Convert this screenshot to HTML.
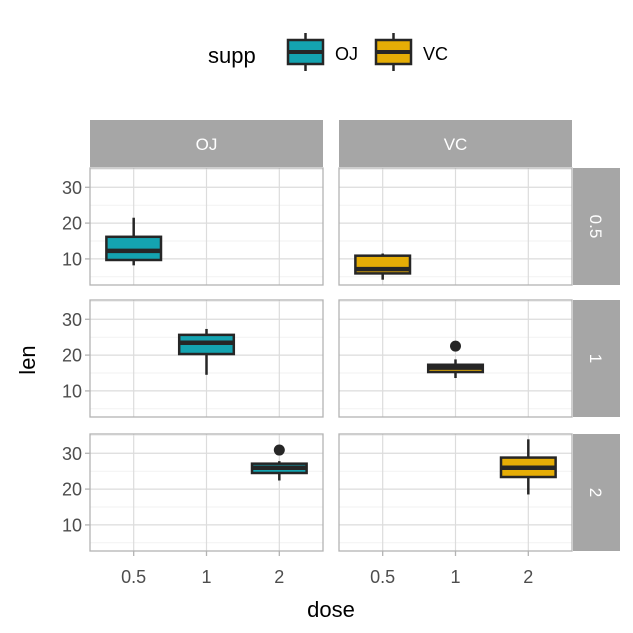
<!DOCTYPE html>
<html><head><meta charset="utf-8"><style>body{margin:0;background:#fff}svg{display:block}</style></head>
<body>
<svg id="c" width="633" height="633" xmlns="http://www.w3.org/2000/svg" font-family="Liberation Sans, sans-serif"></svg>
<script>
const supps=["OJ","VC"];
const doses=["0.5","1","2"];
const fills=["#14a3b0","#e5ad06"];
// [min whisker, q1, median, q3, max whisker] per supp per dose
const statsOJ=[[8.2,9.7,12.25,16.175,21.5],[14.5,20.3,23.45,25.65,27.3],[22.4,24.5,25.95,27.1,27.8]];
const statsVC=[[4.2,5.95,7.15,10.9,11.5],[13.6,15.275,16.5,17.3,18.8],[18.5,23.375,25.95,28.8,33.9]];
const outOJ=[[],[],[30.9]];
const outVC=[[],[22.5],[]];
const yTicks=[10,20,30];
const NS="http://www.w3.org/2000/svg";
const svg=document.getElementById('c');
function mk(t,a,p){const e=document.createElementNS(NS,t);for(const k in a)e.setAttribute(k,a[k]);(p||svg).appendChild(e);return e;}
const colX=[90,339],pw=233,rowY=[168,300,434],ph=117;
const ymin=2.715,ymax=35.385;
function sx(c,i){return colX[c]+(i+1-0.4)/3.2*pw;}
function sy(r,v){return rowY[r]+ph-(v-ymin)/(ymax-ymin)*ph;}
const stats=[statsOJ,statsVC],outs=[outOJ,outVC];
// strips
supps.forEach((s,c)=>{
 const g=mk('g',{});  
 mk('rect',{x:colX[c],y:120,width:pw,height:47,fill:'#a6a6a6'},g);
 const t=mk('text',{x:colX[c]+pw/2,y:150,'text-anchor':'middle','font-size':17,fill:'#fff'},g);t.textContent=s;
});
doses.forEach((d,r)=>{
 const g=mk('g',{});  
 mk('rect',{x:573,y:rowY[r],width:47,height:ph,fill:'#a6a6a6'},g);
 const cx=596,cy=rowY[r]+ph/2;
 const t=mk('text',{x:cx,y:cy+6,'text-anchor':'middle','font-size':17,fill:'#fff',transform:`rotate(90 ${cx} ${cy})`},g);t.textContent=d;
});
for(let r=0;r<3;r++){for(let c=0;c<2;c++){
 const g=mk('g',{});  
 const x0=colX[c];
 // minor grid
 [15,25,5,35].forEach(v=>{const y=sy(r,v);if(y>rowY[r]&&y<rowY[r]+ph)mk('line',{x1:x0,x2:x0+pw,y1:y,y2:y,stroke:'#ebebeb','stroke-width':0.7},g);});
 yTicks.forEach(v=>{const y=sy(r,v);mk('line',{x1:x0,x2:x0+pw,y1:y,y2:y,stroke:'#dcdcdc','stroke-width':1.2},g);});
 doses.forEach((d,i)=>mk('line',{x1:sx(c,i),x2:sx(c,i),y1:rowY[r],y2:rowY[r]+ph,stroke:'#dcdcdc','stroke-width':1.2},g));
 // box for dose r
 const s=stats[c][r],bx=sx(c,r),bw=0.75/3.2*pw;
 const bg=mk('g',{},g);  
 mk('line',{x1:bx,x2:bx,y1:sy(r,s[0]),y2:sy(r,s[4]),stroke:'#262626','stroke-width':2.5},bg);
 mk('rect',{x:bx-bw/2,y:sy(r,s[3]),width:bw,height:sy(r,s[1])-sy(r,s[3]),fill:fills[c],stroke:'#262626','stroke-width':2.5},bg);
 mk('line',{x1:bx-bw/2,x2:bx+bw/2,y1:sy(r,s[2]),y2:sy(r,s[2]),stroke:'#262626','stroke-width':4.5},bg);
 outs[c][r].forEach(v=>{const o=mk('circle',{cx:bx,cy:sy(r,v),r:5.5,fill:'#262626'},bg);});
 mk('rect',{x:x0,y:rowY[r],width:pw,height:ph,fill:'none',stroke:'#b3b3b3','stroke-width':1.3},g);
 if(c==0){yTicks.forEach(v=>{const y=sy(r,v);mk('line',{x1:85,x2:90,y1:y,y2:y,stroke:'#b3b3b3','stroke-width':1.3},g);
  const t=mk('text',{x:82,y:y+6.5,'text-anchor':'end','font-size':18,fill:'#4d4d4d'},g);t.textContent=v;});}
 if(r==2){doses.forEach((d,i)=>{mk('line',{x1:sx(c,i),x2:sx(c,i),y1:551,y2:556,stroke:'#b3b3b3','stroke-width':1.3},g);
  const t=mk('text',{x:sx(c,i),y:583,'text-anchor':'middle','font-size':18,fill:'#4d4d4d'},g);t.textContent=d;});}
}}
let t=mk('text',{x:331,y:617,'text-anchor':'middle','font-size':22,fill:'#000'});t.textContent='dose';

t=mk('text',{x:35,y:360,'text-anchor':'middle','font-size':22,fill:'#000',transform:'rotate(-90 35 360)'});t.textContent='len';

// legend
const lg=mk('g',{});
t=mk('text',{x:208,y:63,'font-size':22,fill:'#000'},lg);t.textContent='supp';
[[288,'OJ'],[376,'VC']].forEach(([x,l],i)=>{
 const e=mk('g',{},lg);
 mk('line',{x1:x+17.5,x2:x+17.5,y1:33,y2:71,stroke:'#262626','stroke-width':2.5},e);
 mk('rect',{x:x,y:40,width:35,height:24,fill:fills[i],stroke:'#262626','stroke-width':2.5},e);
 mk('line',{x1:x,x2:x+35,y1:52,y2:52,stroke:'#262626','stroke-width':4},e);
 const tt=mk('text',{x:x+47,y:60,'font-size':18,fill:'#000'},e);tt.textContent=l;
});
</script>
</body></html>
